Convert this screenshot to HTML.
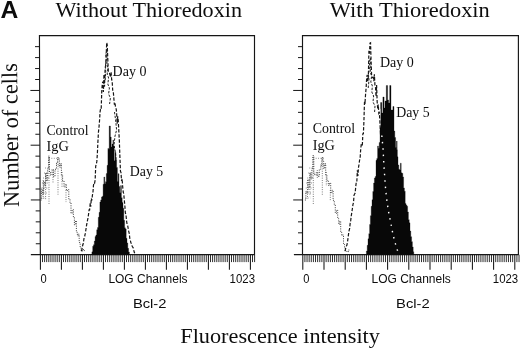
<!DOCTYPE html>
<html lang="en"><head><meta charset="utf-8"><title>Figure A</title>
<style>html,body{margin:0;padding:0;background:#fff;overflow:hidden}svg{display:block}.se{font-family:"Liberation Serif",serif;fill:#0d0d0d}.sa{font-family:"Liberation Sans",sans-serif;fill:#0d0d0d}</style>
</head><body>
<svg width="520" height="349" viewBox="0 0 520 349">
<rect width="520" height="349" fill="#fff"/>
<path d="M40.35 254.7L39.45 35.6H254.5V254.7" fill="none" stroke="#161616" stroke-width="1.15"/>
<path d="M30.85 254.7H255" fill="none" stroke="#161616" stroke-width="1.2"/>
<path d="M35.81 243.75H40.31M35.76 232.8H40.26M35.72 221.85H40.22M35.67 210.9H40.17M30.83 199.95H40.13M35.58 189H40.08M35.54 178.05H40.04M35.49 167.1H39.99M35.45 156.15H39.95M30.6 145.2H39.9M35.36 134.25H39.86M35.31 123.3H39.81M35.27 112.35H39.77M35.22 101.4H39.72M30.38 90.45H39.68M35.13 79.5H39.63M35.09 68.55H39.59M35.04 57.6H39.54M35 46.65H39.5" fill="none" stroke="#161616" stroke-width="1"/>
<path d="M42.5 254.7V262.1M44.6 254.7V262.1M46.7 254.7V262.1M48.8 254.7V262.1M50.9 254.7V262.1M53 254.7V262.1M55.1 254.7V262.1M57.2 254.7V262.1M59.3 254.7V262.1M63.5 254.7V262.1M65.6 254.7V262.1M67.7 254.7V262.1M69.8 254.7V262.1M71.9 254.7V262.1M74 254.7V262.1M76.1 254.7V262.1M78.2 254.7V262.1M80.3 254.7V262.1M84.5 254.7V262.1M86.6 254.7V262.1M88.7 254.7V262.1M90.8 254.7V262.1M92.9 254.7V262.1M95 254.7V262.1M97.1 254.7V262.1M99.2 254.7V262.1M101.3 254.7V262.1M105.5 254.7V262.1M107.6 254.7V262.1M109.7 254.7V262.1M111.8 254.7V262.1M113.9 254.7V262.1M116 254.7V262.1M118.1 254.7V262.1M120.2 254.7V262.1M122.3 254.7V262.1M126.5 254.7V262.1M128.6 254.7V262.1M130.7 254.7V262.1M132.8 254.7V262.1M134.9 254.7V262.1M137 254.7V262.1M139.1 254.7V262.1M141.2 254.7V262.1M143.3 254.7V262.1M147.5 254.7V262.1M149.6 254.7V262.1M151.7 254.7V262.1M153.8 254.7V262.1M155.9 254.7V262.1M158 254.7V262.1M160.1 254.7V262.1M162.2 254.7V262.1M164.3 254.7V262.1M168.5 254.7V262.1M170.6 254.7V262.1M172.7 254.7V262.1M174.8 254.7V262.1M176.9 254.7V262.1M179 254.7V262.1M181.1 254.7V262.1M183.2 254.7V262.1M185.3 254.7V262.1M189.5 254.7V262.1M191.6 254.7V262.1M193.7 254.7V262.1M195.8 254.7V262.1M197.9 254.7V262.1M200 254.7V262.1M202.1 254.7V262.1M204.2 254.7V262.1M206.3 254.7V262.1M210.5 254.7V262.1M212.6 254.7V262.1M214.7 254.7V262.1M216.8 254.7V262.1M218.9 254.7V262.1M221 254.7V262.1M223.1 254.7V262.1M225.2 254.7V262.1M227.3 254.7V262.1M231.5 254.7V262.1M233.6 254.7V262.1M235.7 254.7V262.1M237.8 254.7V262.1M239.9 254.7V262.1M242 254.7V262.1M244.1 254.7V262.1M246.2 254.7V262.1M248.3 254.7V262.1M252.5 254.7V262.1M254.6 254.7V262.1" fill="none" stroke="#222" stroke-width="0.95"/>
<path d="M40.4 254.7V269.7M61.4 254.7V269.7M82.4 254.7V269.7M103.4 254.7V269.7M124.4 254.7V269.7M145.4 254.7V269.7M166.4 254.7V269.7M187.4 254.7V269.7M208.4 254.7V269.7M229.4 254.7V269.7M250.4 254.7V269.7" fill="none" stroke="#161616" stroke-width="1.05"/>
<path d="M302.5 254.7L302.5 35.6H518.4V254.7" fill="none" stroke="#161616" stroke-width="1.15"/>
<path d="M293.9 254.7H518.9" fill="none" stroke="#161616" stroke-width="1.2"/>
<path d="M298 243.75H302.5M298 232.8H302.5M298 221.85H302.5M298 210.9H302.5M293.2 199.95H302.5M298 189H302.5M298 178.05H302.5M298 167.1H302.5M298 156.15H302.5M293.2 145.2H302.5M298 134.25H302.5M298 123.3H302.5M298 112.35H302.5M298 101.4H302.5M293.2 90.45H302.5M298 79.5H302.5M298 68.55H302.5M298 57.6H302.5M298 46.65H302.5" fill="none" stroke="#161616" stroke-width="1"/>
<path d="M304.92 254.7V262.1M307.04 254.7V262.1M309.16 254.7V262.1M311.28 254.7V262.1M313.4 254.7V262.1M315.52 254.7V262.1M317.64 254.7V262.1M319.76 254.7V262.1M321.88 254.7V262.1M326.12 254.7V262.1M328.24 254.7V262.1M330.36 254.7V262.1M332.48 254.7V262.1M334.6 254.7V262.1M336.72 254.7V262.1M338.84 254.7V262.1M340.96 254.7V262.1M343.08 254.7V262.1M347.32 254.7V262.1M349.44 254.7V262.1M351.56 254.7V262.1M353.68 254.7V262.1M355.8 254.7V262.1M357.92 254.7V262.1M360.04 254.7V262.1M362.16 254.7V262.1M364.28 254.7V262.1M368.52 254.7V262.1M370.64 254.7V262.1M372.76 254.7V262.1M374.88 254.7V262.1M377 254.7V262.1M379.12 254.7V262.1M381.24 254.7V262.1M383.36 254.7V262.1M385.48 254.7V262.1M389.72 254.7V262.1M391.84 254.7V262.1M393.96 254.7V262.1M396.08 254.7V262.1M398.2 254.7V262.1M400.32 254.7V262.1M402.44 254.7V262.1M404.56 254.7V262.1M406.68 254.7V262.1M410.92 254.7V262.1M413.04 254.7V262.1M415.16 254.7V262.1M417.28 254.7V262.1M419.4 254.7V262.1M421.52 254.7V262.1M423.64 254.7V262.1M425.76 254.7V262.1M427.88 254.7V262.1M432.12 254.7V262.1M434.24 254.7V262.1M436.36 254.7V262.1M438.48 254.7V262.1M440.6 254.7V262.1M442.72 254.7V262.1M444.84 254.7V262.1M446.96 254.7V262.1M449.08 254.7V262.1M453.32 254.7V262.1M455.44 254.7V262.1M457.56 254.7V262.1M459.68 254.7V262.1M461.8 254.7V262.1M463.92 254.7V262.1M466.04 254.7V262.1M468.16 254.7V262.1M470.28 254.7V262.1M474.52 254.7V262.1M476.64 254.7V262.1M478.76 254.7V262.1M480.88 254.7V262.1M483 254.7V262.1M485.12 254.7V262.1M487.24 254.7V262.1M489.36 254.7V262.1M491.48 254.7V262.1M495.72 254.7V262.1M497.84 254.7V262.1M499.96 254.7V262.1M502.08 254.7V262.1M504.2 254.7V262.1M506.32 254.7V262.1M508.44 254.7V262.1M510.56 254.7V262.1M512.68 254.7V262.1M516.92 254.7V262.1M519.04 254.7V262.1" fill="none" stroke="#222" stroke-width="0.95"/>
<path d="M302.8 254.7V269.7M324 254.7V269.7M345.2 254.7V269.7M366.4 254.7V269.7M387.6 254.7V269.7M408.8 254.7V269.7M430 254.7V269.7M451.2 254.7V269.7M472.4 254.7V269.7M493.6 254.7V269.7M514.8 254.7V269.7" fill="none" stroke="#161616" stroke-width="1.05"/>
<path d="M40.6 200H41.6V188.99H42.6V194.57H43.6V181.4H44.6V185.94H45.6V173.15H46.6V180.88H47.6V168.92H48.5V156.04H49.5V172.02H50.5V175.21H52V169.51H53.5V176.61H55V169.26H56.5V162.71H57.5V157.88H58.5V159.2H59.4V167.2H60.4V163.63H61.4V175.49H62.6V180.72H64V187.13H65.2V184.35H66.4V190.6H67.6V189.49H68.8V198.99H70V202.85H71V213.36H72.2V209.61H73.4V216.96H74.4V224.95H75.4V220.87H76.4V232.28H77.4V235.86H78.4V234.16H79.2V242.53H80.2V247.95H81.2V251.06H82.6V249.61H84V250.6H85" fill="none" stroke="#333" stroke-width="0.95" stroke-dasharray="1 1.3"/>
<path d="M43.2 180V198.94M45.6 173V199.12M49 157V203.83M53 170V182.88M58 157V194.58M62 172V187.02M66 190V202.05" fill="none" stroke="#555" stroke-width="0.85" stroke-dasharray="0.9 1.4"/>
<path d="M45 168H49M44 173H49M43 178H49M42 183H49M41.5 188H49M41 193H48M41 198H46M49 158.3H61M56 165H62" fill="none" stroke="#666" stroke-width="0.8" stroke-dasharray="0.9 1.5"/>
<path d="M304.9 200H305.9V191.37H306.9V192.92H307.9V179.57H308.9V187.5H309.9V173.05H310.9V178.86H311.9V168.45H312.8V155.54H313.8V173.17H314.8V175.2H316.3V172.38H317.8V176.46H319.3V169.3H320.8V165.3H321.8V157.56H322.8V161.27H323.7V168.62H324.7V163.65H325.7V175.14H326.9V180.27H328.3V185.43H329.5V183.07H330.7V193.05H331.9V190.25H333.1V200.31H334.3V204.82H335.3V213.38H336.5V210.2H337.7V218.6H338.7V224.34H339.7V221.28H340.7V232.37H341.7V235.44H342.7V234.84H343.5V244.36H344.5V248.45H345.5V250.93H346.9V251.98H348.3V250H349.3" fill="none" stroke="#333" stroke-width="0.95" stroke-dasharray="1 1.3"/>
<path d="M307.5 180V198.74M309.9 173V196.2M313.3 157V205.13M317.3 170V179.13M322.3 157V194.7M326.3 172V186.03M330.3 190V201.07" fill="none" stroke="#555" stroke-width="0.85" stroke-dasharray="0.9 1.4"/>
<path d="M309.3 168H313.3M308.3 173H313.3M307.3 178H313.3M306.3 183H313.3M305.8 188H313.3M305.3 193H312.3M305.3 198H310.3M313.3 158.3H325.3M320.3 165H326.3" fill="none" stroke="#666" stroke-width="0.8" stroke-dasharray="0.9 1.5"/>
<path d="M81.4 251.27L81.95 249.3L82.5 246L83.05 244.31L83.6 241.27L84.15 237.21L84.7 236.17L85.25 233.65L85.8 230.29L86.35 226.54L86.9 223.34L87.45 220.66L88 217.91L88.55 214.27L89.1 209.8L89.65 209.79L90.2 203.24L90.75 206.71L91.3 198.48L91.85 200.51L92.4 195.44L92.95 192.43L93.5 185.08L94.05 182.62L94.6 183.1L95.15 180.23L95.7 166.18L96.25 164.49L96.8 161.63L97.35 154.14L97.9 142L98.45 132.1L99 127.31L99.55 120.24L100.1 111.69L100.65 108.33L101.2 108.85L101.75 91.4L102.3 83.9L102.85 81.54L103.4 91.98L103.95 74.27L104.5 86.65L105.05 70.66L105.6 66.62L106.15 55.89L106.7 42.6L107.25 44.72L107.8 59.35L108.35 72.18L108.9 72.72L109.45 73.25L110 74.91L110.55 77.27L111.1 71.91L111.65 79.44L112.2 81.95L112.75 91.13L113.3 91.82L113.85 98.42L114.4 104.81L114.95 102.72L115.5 106.84L116.05 108.09L116.6 112.41L117.15 123.72L117.7 116.35L118.25 120.49L118.8 130.74L119.35 140.82L119.9 156.63L120.45 171.17L121 172.61L121.55 181.06L122.1 178.65L122.65 186.3L123.2 192.01L123.75 193.73L124.3 200.34L124.85 205.71L125.4 213.04L125.95 214.32L126.5 220.52L127.05 224.23L127.6 225.1L128.15 228.23L128.7 231.32L129.25 233.32L129.8 238.3L130.35 240.24L130.9 242.84L131.45 243.59L132 245.89L132.55 246.84L133.1 247.56L133.65 249.66L134.2 252.1L134.75 253.41" fill="none" stroke="#161616" stroke-width="1.2" stroke-dasharray="3.4 1.7"/>
<path d="M344.7 251.12L345.25 250.36L345.8 247.76L346.35 246.33L346.9 245.07L347.45 242.34L348 238.32L348.55 233.92L349.1 230.5L349.65 228.28L350.2 222.97L350.75 220.15L351.3 215.54L351.85 212.25L352.4 208.47L352.95 204.64L353.5 202.5L354.05 195.04L354.6 193.94L355.15 193.07L355.7 186.99L356.25 182.4L356.8 182.34L357.35 170.23L357.9 176.02L358.45 167.92L359 164.36L359.55 160.29L360.1 158.35L360.65 149.85L361.2 144.81L361.75 145.03L362.3 146.06L362.85 133.78L363.4 133.59L363.95 120.44L364.5 101.16L365.05 102.25L365.6 93.75L366.15 87.59L366.7 77.11L367.25 74.87L367.8 81.09L368.35 76.78L368.9 50.76L369.45 53.64L370 43.16L370.55 42.81L371.1 61.61L371.65 76.69L372.2 77.33L372.75 77.69L373.3 77.53L373.85 81.21L374.4 74.34L374.95 85.74L375.5 87.32L376.05 96.5L376.6 85.13L377.15 101.58L377.7 108.85L378.25 104.45L378.8 113.54L379.35 112.86L379.9 121.77L380.45 132.75L381 132.05L381.55 137.64" fill="none" stroke="#161616" stroke-width="1.2" stroke-dasharray="3.4 1.7"/>
<path d="M105.2 80L105.8 72L105.2 66L106.4 60L105.8 54L107 50L107.4 58L106.8 64L108 68L107.2 74L108.6 78L107.8 84L109.4 88L108.6 94L110.4 98L109.6 104" fill="none" stroke="#222" stroke-width="1" stroke-dasharray="2.4 1.4"/>
<path d="M114.5 112L115.6 120L116.6 130L115 136L114 145L115.4 152L116.2 160" fill="none" stroke="#222" stroke-width="1" stroke-dasharray="2.4 1.4"/>
<path d="M368.2 88L369 80L368.4 74L369.8 68L369.2 62L370.4 58L370.8 66L370.2 72L371.6 76L370.8 82L372.4 86L371.8 92L373.6 96L373 102L375 106L374.6 112" fill="none" stroke="#222" stroke-width="1" stroke-dasharray="2.4 1.4"/>
<path d="M91.9 254.7V251.85H92.7V246.19H93.5V244.69H94.3V241.12H95.1V236.46H95.9V235.08H96.7V229.82H97.5V227.61H98.3V217.28H99.1V212.37H99.9V202.06H100.7V199.91H101.5V196.95H102.3V196.24H103.1V184.24H103.9V177H104.7V183.76H105.5V181.67H106.3V173.57H107.1V165.37H107.9V148.42H108.7V149.21H109.2V126H110.4V137H111.2V147H112V144H112.9V140H113.6V146H114.2V160.8H115V152.17H115.8V159.65H116.6V167.41H117.4V181.49H118.2V173.73H119V186.43H119.8V192.81H120.6V185.6H121.4V197.65H122.2V202.42H123V208.17H123.8V220.32H124.6V227.81H125.4V228.92H126.2V238.33H127V242.91H127.8V248.33H128.6V252H129.4V254.7Z" fill="#080808" stroke="#080808" stroke-width="0.3"/>
<path d="M366.4 254.7V251.05H367.2V245.34H368V238.75H368.8V233.63H369.6V224.47H370.4V215.68H371.2V206.37H372V199.68H372.8V191.52H373.6V183.06H374.4V178.07H375.2V176.5H376V160.37H376.8V158.41H377.6V146.06H378.4V148.13H379.2V142.43H380V127.71H380.8V108.71H380.6V102.5H381.8V113H382.9V97H384.1V108H385V101H386.3V85.5H387.6V100H388.6V103H389.7V85.5H391V110H392.9V106.5H394V131.1H394.8V137.5H395.6V147.6H396.4V149.81H397.2V156.83H398V164.95H398.8V169.16H399.6V170.09H400.4V163.17H401.2V172.87H402V173.26H402.8V176.98H403.6V187.93H404.4V191.15H405.2V203.42H406V204.88H406.8V206.26H407.6V211.99H408.4V219.63H409.2V222.84H410V231.11H410.8V236.7H411.6V241.63H412.4V246.92H413.2V251.74H413.8V254.7Z" fill="#080808" stroke="#080808" stroke-width="0.3"/>
<path d="M396.3 141h1v16h-1z" fill="#080808"/>
<path d="M381.8 135.5L383 148L383.9 165L384.6 175L385.3 185.5L386.6 198.4L388.4 211L391 224L393 234.5L396 246L398 252" fill="none" stroke="#fff" stroke-width="1.4" stroke-dasharray="1.5 4.9"/>
<text class="sa" x="0.4" y="18.3" font-size="24" textLength="17.8" lengthAdjust="spacingAndGlyphs" font-weight="bold">A</text>
<text class="se" x="55.6" y="17.4" font-size="20.3" textLength="186.4" lengthAdjust="spacingAndGlyphs">Without Thioredoxin</text>
<text class="se" x="329.8" y="16.6" font-size="20.3" textLength="160" lengthAdjust="spacingAndGlyphs">With Thioredoxin</text>
<text class="se" transform="translate(19 206.9) rotate(-90.8)" font-size="22.7" textLength="143.8" lengthAdjust="spacingAndGlyphs">Number of cells</text>
<text class="se" x="180.3" y="343.2" font-size="21" textLength="199.6" lengthAdjust="spacingAndGlyphs">Fluorescence intensity</text>
<text class="sa" x="40.6" y="282.8" font-size="12" textLength="6.2" lengthAdjust="spacingAndGlyphs">0</text>
<text class="sa" x="108.4" y="283.4" font-size="12" textLength="79.2" lengthAdjust="spacingAndGlyphs">LOG Channels</text>
<text class="sa" x="229.6" y="283.4" font-size="12" textLength="25.4" lengthAdjust="spacingAndGlyphs">1023</text>
<text class="sa" x="132.9" y="307.8" font-size="13.4" textLength="33.6" lengthAdjust="spacingAndGlyphs">Bcl-2</text>
<text class="sa" x="303.3" y="282.8" font-size="12" textLength="6.2" lengthAdjust="spacingAndGlyphs">0</text>
<text class="sa" x="371.6" y="283.4" font-size="12" textLength="79.2" lengthAdjust="spacingAndGlyphs">LOG Channels</text>
<text class="sa" x="492.8" y="283.4" font-size="12" textLength="25.4" lengthAdjust="spacingAndGlyphs">1023</text>
<text class="sa" x="396.1" y="307.8" font-size="13.4" textLength="33.6" lengthAdjust="spacingAndGlyphs">Bcl-2</text>
<text class="se" x="112.6" y="76.1" font-size="13.7" textLength="33.8" lengthAdjust="spacingAndGlyphs">Day 0</text>
<text class="se" x="129.8" y="175.6" font-size="13.7" textLength="33.4" lengthAdjust="spacingAndGlyphs">Day 5</text>
<text class="se" x="46.4" y="134.8" font-size="13.7" textLength="42.2" lengthAdjust="spacingAndGlyphs">Control</text>
<text class="se" x="46.4" y="151.1" font-size="13.7" textLength="22.4" lengthAdjust="spacingAndGlyphs">IgG</text>
<text class="se" x="379.9" y="66.5" font-size="13.7" textLength="33.8" lengthAdjust="spacingAndGlyphs">Day 0</text>
<text class="se" x="396.2" y="117" font-size="13.7" textLength="33.4" lengthAdjust="spacingAndGlyphs">Day 5</text>
<text class="se" x="312.7" y="133.2" font-size="13.7" textLength="42.4" lengthAdjust="spacingAndGlyphs">Control</text>
<text class="se" x="312.7" y="149.7" font-size="13.7" textLength="22.2" lengthAdjust="spacingAndGlyphs">IgG</text>
</svg>
</body></html>
